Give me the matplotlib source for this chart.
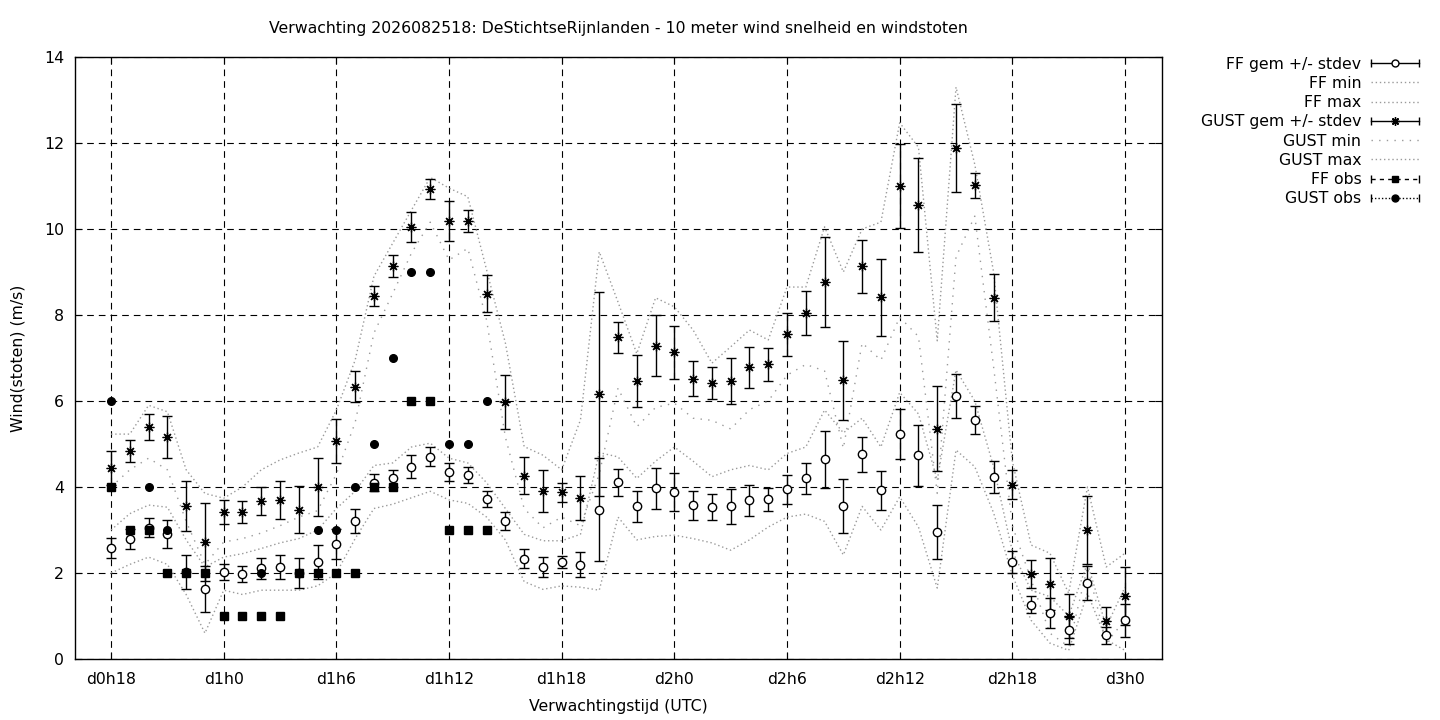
import matplotlib
matplotlib.use('Agg')
import matplotlib.pyplot as plt
from matplotlib.legend_handler import HandlerBase
from matplotlib.lines import Line2D

NAN = float('nan')

plt.rcParams['font.family'] = 'DejaVu Sans'
plt.rcParams['font.size'] = 11.3

TITLE = 'Verwachting 2026082518: DeStichtseRijnlanden - 10 meter wind snelheid en windstoten'

# forecast hours since d0h0
HOURS = list(range(18, 73))
TICK_HOURS = [18, 24, 30, 36, 42, 48, 54, 60, 66, 72]
TICK_LABELS = ['d0h18', 'd1h0', 'd1h6', 'd1h12', 'd1h18', 'd2h0', 'd2h6', 'd2h12', 'd2h18', 'd3h0']

FF_GEM = [2.58, 2.79, 3.05, 2.91, 2.02, 1.63, 2.02, 1.98, 2.11, 2.14,
          2.00, 2.26, 2.67, 3.21, 4.10, 4.20, 4.47, 4.70, 4.35, 4.28,
          3.72, 3.21, 2.33, 2.14, 2.26, 2.19, 3.47, 4.11, 3.55, 3.97,
          3.88, 3.57, 3.53, 3.55, 3.69, 3.71, 3.95, 4.20, 4.64, 3.55,
          4.76, 3.92, 5.23, 4.74, 2.95, 6.11, 5.56, 4.23, 2.26, 1.26,
          1.08, 0.67, 1.77, 0.55, 0.90]
FF_STD = [0.24, 0.24, 0.22, 0.33, 0.40, 0.53, 0.18, 0.19, 0.25, 0.28,
          0.34, 0.40, 0.35, 0.29, 0.20, 0.20, 0.27, 0.22, 0.21, 0.19,
          0.18, 0.22, 0.22, 0.23, 0.14, 0.29, 1.20, 0.31, 0.36, 0.47,
          0.44, 0.34, 0.30, 0.41, 0.36, 0.27, 0.34, 0.36, 0.66, 0.63,
          0.41, 0.46, 0.59, 0.71, 0.62, 0.51, 0.32, 0.37, 0.25, 0.20,
          0.35, 0.31, 0.40, 0.19, 0.38]
FF_MIN = [2.00, 2.20, 2.37, 2.20, 1.50, 0.60, 1.60, 1.50, 1.60, 1.60,
          1.60, 1.70, 2.00, 2.80, 3.50, 3.60, 3.75, 3.90, 3.70, 3.62,
          3.30, 2.77, 1.80, 1.62, 1.70, 1.67, 1.60, 3.30, 2.77, 2.85,
          2.88, 2.80, 2.70, 2.53, 2.77, 3.07, 3.30, 3.37, 3.20, 2.42,
          3.55, 3.00, 3.77, 3.07, 1.65, 4.86, 4.47, 3.40, 1.95, 0.90,
          0.37, 0.20, 1.53, 0.45, 0.20]
FF_MAX = [3.00, 3.38, 3.58, 3.53, 2.77, 2.14, 2.37, 2.45, 2.57, 2.70,
          2.80, 3.00, 3.50, 3.90, 4.50, 4.56, 4.93, 5.02, 4.67, 4.56,
          4.10, 3.50, 2.90, 2.75, 2.75, 2.90, 4.80, 4.70, 4.20, 4.60,
          4.93, 4.60, 4.24, 4.40, 4.50, 4.40, 4.78, 4.93, 5.79, 5.26,
          5.60, 4.93, 6.20, 5.70, 4.16, 6.72, 6.00, 4.47, 2.50, 1.60,
          1.45, 1.00, 2.23, 0.75, 1.67]

GUST_GEM = [4.44, 4.84, 5.40, 5.16, 3.56, 2.72, 3.42, 3.42, 3.67, 3.70,
            3.47, 4.00, 5.07, 6.33, 8.44, 9.14, 10.05, 10.93, 10.19, 10.19,
            8.49, 5.98, 4.26, 3.91, 3.88, 3.74, 6.16, 7.48, 6.46, 7.29,
            7.13, 6.52, 6.41, 6.46, 6.78, 6.85, 7.55, 8.04, 8.76, 6.48,
            9.13, 8.41, 11.00, 10.56, 5.36, 11.88, 11.02, 8.40, 4.05, 1.98,
            1.74, 1.01, 2.99, 0.88, 1.46]
GUST_STD = [0.40, 0.25, 0.30, 0.49, 0.58, 0.90, 0.28, 0.26, 0.33, 0.44,
            0.55, 0.68, 0.51, 0.36, 0.23, 0.25, 0.35, 0.23, 0.47, 0.25,
            0.43, 0.62, 0.43, 0.49, 0.22, 0.51, 2.37, 0.36, 0.60, 0.71,
            0.62, 0.41, 0.37, 0.53, 0.48, 0.38, 0.50, 0.51, 1.05, 0.92,
            0.61, 0.90, 0.98, 1.09, 0.98, 1.03, 0.29, 0.55, 0.34, 0.33,
            0.60, 0.51, 0.79, 0.33, 0.68]
GUST_MIN = [4.00, 4.40, 4.67, 4.40, 3.20, 2.20, 2.72, 2.80, 2.93, 3.10,
            3.30, 3.45, 4.30, 5.50, 7.58, 8.50, 9.44, 10.16, 9.28, 9.55,
            7.88, 5.16, 3.50, 3.05, 3.30, 3.10, 4.30, 6.30, 5.40, 5.85,
            5.95, 5.60, 5.55, 5.35, 5.80, 6.00, 6.60, 6.85, 6.70, 4.90,
            7.35, 6.95, 7.95, 7.50, 3.85, 9.35, 10.30, 6.80, 3.10, 1.84,
            0.60, 0.29, 2.14, 0.37, 0.91]
GUST_MAX = [5.23, 5.23, 5.90, 5.75, 4.40, 3.85, 3.74, 4.00, 4.40, 4.63,
            4.79, 4.93, 5.79, 6.95, 8.90, 9.67, 10.44, 11.20, 10.95, 10.75,
            9.05, 7.35, 4.94, 4.74, 4.40, 5.56, 9.47, 8.30, 7.10, 8.40,
            8.19, 7.65, 6.88, 7.26, 7.65, 7.42, 8.65, 8.65, 10.05, 9.00,
            10.00, 10.16, 12.47, 11.90, 7.40, 13.30, 11.50, 9.00, 4.60, 2.65,
            2.46, 1.53, 4.00, 2.14, 2.46]

FF_OBS = [4, 3, 3, 2, 2, 2, 1, 1, 1, 1, 2, 2, 2, 2, 4, 4, 6, 6, 3, 3, 3] + [NAN] * 34
GUST_OBS = [6, 3, 4, 3, 2, 2, 1, 1, 2, NAN, 2, 3, 3, 4, 5, 7, 9, 9, 5, 5, 6] + [NAN] * 34

GREY = '#9a9a9a'
FINE_DOT = (0, (1, 2))
SPARSE_DOT = (0, (1, 4.5))


class CapHandler(HandlerBase):
    # gnuplot style key sample: |---marker---|
    def __init__(self, ls='-', marker='o', mfc='black', ms=5):
        super().__init__()
        self.ls = ls
        self.marker = marker
        self.mfc = mfc
        self.ms = ms

    def create_artists(self, legend, orig_handle, xdescent, ydescent,
                       width, height, fontsize, trans):
        y = (height - ydescent) / 2.0
        x0, x1 = -xdescent, width - xdescent
        line = Line2D([x0, x1], [y, y], color='black', lw=1, ls=self.ls)
        caps = Line2D([x0, x1], [y, y], ls='none', marker='|', ms=6, mew=1, color='black')
        mid = Line2D([(x0 + x1) / 2], [y], ls='none', marker=self.marker, ms=self.ms,
                     mfc=self.mfc, mec='black', mew=1)
        for a in (line, caps, mid):
            a.set_transform(trans)
        return [line, caps, mid]


fig = plt.figure(figsize=(14.4, 7.2), dpi=100)
ax = fig.add_axes([75 / 1440, 1 - 659 / 720, (1162 - 75) / 1440, (659 - 57) / 720])

ax.errorbar(HOURS, FF_GEM, yerr=FF_STD, fmt='o', ms=6, mfc='white', mec='black', mew=1,
            ecolor='black', elinewidth=1, capsize=3.5, capthick=1, zorder=4)
ax.plot(HOURS, FF_MIN, color=GREY, lw=1, ls=FINE_DOT, zorder=2)
ax.plot(HOURS, FF_MAX, color=GREY, lw=1, ls=FINE_DOT, zorder=2)
ax.errorbar(HOURS, GUST_GEM, yerr=GUST_STD, fmt='none',
            ecolor='black', elinewidth=1, capsize=3.5, capthick=1, zorder=4)
ax.plot(HOURS, GUST_GEM, ls='none', marker=(8, 2, 0), ms=7, mew=0.9, color='black', zorder=5)
ax.plot(HOURS, GUST_MIN, color=GREY, lw=1, ls=SPARSE_DOT, zorder=2)
ax.plot(HOURS, GUST_MAX, color=GREY, lw=1, ls=FINE_DOT, zorder=2)
ax.plot(HOURS, FF_OBS, ls='none', marker='s', ms=5.5, color='black', zorder=6)
ax.plot(HOURS, GUST_OBS, ls='none', marker='o', ms=5.5, color='black', zorder=7)

ax.set_xlim(16.08, 73.97)
ax.set_ylim(0, 14)
ax.set_xticks(TICK_HOURS)
ax.set_xticklabels(TICK_LABELS)
ax.set_yticks(range(0, 15, 2))
ax.tick_params(direction='in', length=5, top=True, right=True)
ax.tick_params(axis='x', pad=9)
ax.tick_params(axis='y', pad=8)
ax.grid(True, color='black', lw=0.8, ls=(0, (6, 4.5)))
ax.set_axisbelow(True)
for s in ax.spines.values():
    s.set_linewidth(1)

fig.text(618 / 1440, 1 - 29 / 720, TITLE, ha='center', va='center')
fig.text(18 / 1440, 1 - 358 / 720, 'Wind(stoten) (m/s)', rotation=90, ha='center', va='center')
fig.text(618 / 1440, 1 - 707 / 720, 'Verwachtingstijd (UTC)', ha='center', va='center')

# legend proxies
h_ffgem = Line2D([], [])
h_ffmin = Line2D([], [], color=GREY, lw=1, ls=FINE_DOT)
h_ffmax = Line2D([], [], color=GREY, lw=1, ls=FINE_DOT)
h_gugem = Line2D([], [])
h_gumin = Line2D([], [], color=GREY, lw=1, ls=SPARSE_DOT)
h_gumax = Line2D([], [], color=GREY, lw=1, ls=FINE_DOT)
h_ffobs = Line2D([], [])
h_guobs = Line2D([], [])
handler_map = {
    h_ffgem: CapHandler('-', 'o', 'white', 5),
    h_gugem: CapHandler('-', (8, 2, 0), 'black', 6),
    h_ffobs: CapHandler((0, (3, 3)), 's', 'black', 5),
    h_guobs: CapHandler((0, (1, 1.5)), 'o', 'black', 5),
}
fig.legend([h_ffgem, h_ffmin, h_ffmax, h_gugem, h_gumin, h_gumax, h_ffobs, h_guobs],
           ['FF gem +/- stdev', 'FF min', 'FF max', 'GUST gem +/- stdev',
            'GUST min', 'GUST max', 'FF obs', 'GUST obs'],
           handler_map=handler_map, loc='upper right', bbox_to_anchor=(0.990, 0.930),
           frameon=False, markerfirst=False, handlelength=3.05, labelspacing=0.27,
           handletextpad=0.65, borderaxespad=0)

fig.savefig('out.png', dpi=100)
